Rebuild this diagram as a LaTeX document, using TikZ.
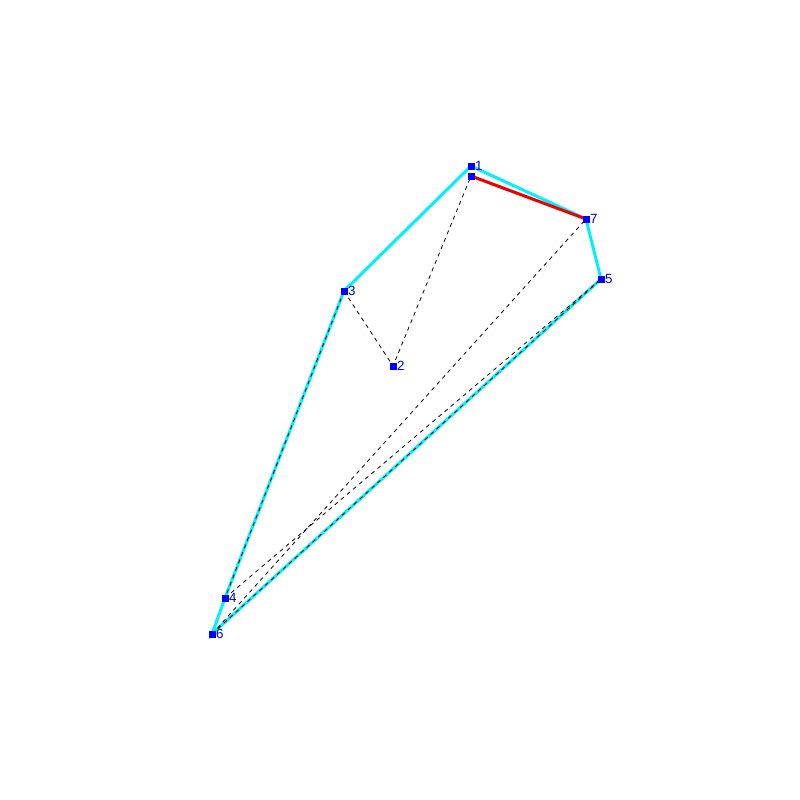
\documentclass[tikz,border=0pt]{standalone}
\usepackage{xcolor}
\usepackage{fontspec}
\setsansfont{Liberation Sans}
\usepackage{tikz}
\usetikzlibrary{shapes,arrows}

\definecolor{hullcyan}{RGB}{0,240,255}
\definecolor{ptblue}{RGB}{0,0,255}
\definecolor{lblblue}{RGB}{0,0,200}
\definecolor{edgered}{RGB}{235,0,0}

\tikzset{
  hull/.style={hullcyan,line width=2.25pt},
  trial/.style={black,line width=0.6pt,dash pattern=on 3pt off 3pt},
  best/.style={edgered,line width=2.25pt},
  pt/.style={fill=ptblue,draw=none,minimum size=5.25pt,inner sep=0pt,rectangle},
  lbl/.style={lblblue,font=\sffamily\fontsize{10}{10}\selectfont,inner sep=0pt,anchor=west}
}

\begin{document}
\begin{tikzpicture}[x=0.75pt,y=0.75pt,yscale=-1,xscale=1]
        \useasboundingbox (0,0) rectangle (800,800);

        \coordinate (p1) at (471,166);
        \coordinate (p0) at (471,176);
        \coordinate (p2) at (393,366);
        \coordinate (p3) at (344,291);
        \coordinate (p4) at (225,598);
        \coordinate (p5) at (601,279);
        \coordinate (p6) at (212,634);
        \coordinate (p7) at (586,219);

        % hull
        \draw [hull] (p3) -- (p1) -- (p7) -- (p5) -- (p6) -- (p4) -- cycle;

        % dashed tries
        \draw [trial] (p3) -- (p2) -- (p0);
        \draw [trial] (p3) -- (p4);
        \draw [trial] (p6) -- (p5);
        \draw [trial] (p6) -- (p7);
        \draw [trial] (p4) -- (p5);

        \draw [best] (p0) -- (p7);

        \draw (p0) node [pt] (n0) {};
        \draw (p1) node [pt] (n1) {};
        \draw (p2) node [pt] (n2) {};
        \draw (p3) node [pt] (n3) {};
        \draw (p4) node [pt] (n4) {};
        \draw (p5) node [pt] (n5) {};
        \draw (p6) node [pt] (n6) {};
        \draw (p7) node [pt] (n7) {};

        \draw (n1.east) node [lbl] (l1) {1};
        \draw (n2.east) node [lbl] (l2) {2};
        \draw (n3.east) node [lbl] (l3) {3};
        \draw (n4.east) node [lbl] (l4) {4};
        \draw (n5.east) node [lbl] (l5) {5};
        \draw (n6.east) node [lbl] (l6) {6};
        \draw (n7.east) node [lbl] (l7) {7};
\end{tikzpicture}
\end{document}
